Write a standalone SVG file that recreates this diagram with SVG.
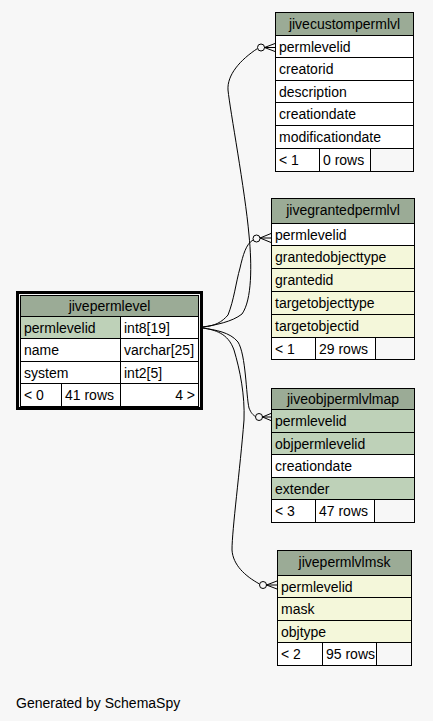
<svg xmlns="http://www.w3.org/2000/svg" width="433" height="721" viewBox="0 0 433 721">
<style>
text{font-family:"Liberation Sans",Arial,sans-serif;font-size:14px;fill:#000}
.c{text-anchor:middle}
.e{text-anchor:end}
rect{stroke:#000;stroke-width:1}
rect.thick{fill:none;stroke-width:3}
.h{fill:#9bab96}
.w{fill:#ffffff}
.k{fill:#bed1b8}
.i{fill:#f4f7da}
.b{fill:#f7f7f7}
.edge{fill:none;stroke:#000;stroke-width:1}
.dot{fill:#f7f7f7;stroke:#000;stroke-width:1}
</style>
<rect x="0" y="0" width="433" height="721" fill="#f7f7f7" style="stroke:none"/>

<g id="connectors">
<path class="edge" d="M203,327 C215,325 232,322 242,314 C252,300 252,265 249,235 C245,190 230,110 228,90 C227,75 240,60 257.5,48.5"/>
<circle class="dot" cx="261" cy="47.5" r="3.5"/>
<path class="edge" d="M264.5,47.5 L275,43.5 M264.5,47.5 L275,47.5 M264.5,47.5 L275,51.5"/>

<path class="edge" d="M203,327 C215,326 222,322 228,315 C234,300 236,282 240,268 C243,255 246,244 253,240"/>
<circle class="dot" cx="256.5" cy="238.5" r="3.5"/>
<path class="edge" d="M260,238 L271,233.5 M260,238 L271,238 M260,238 L271,242.5"/>

<path class="edge" d="M203,328 C215,330 230,332 238,342 C246,355 246,395 249,408 C251,413 253,415 255.5,416.5"/>
<circle class="dot" cx="259" cy="417" r="3.5"/>
<path class="edge" d="M262.5,417 L272,413 M262.5,417 L272,417 M262.5,417 L272,421"/>

<path class="edge" d="M203,328 C215,330 228,333 234,350 C240,370 245,395 244,420 C240,470 232,530 232,550 C233,565 245,576 259.5,584"/>
<circle class="dot" cx="263" cy="585" r="3.5"/>
<path class="edge" d="M266.5,585 L277,581 M266.5,585 L277,585 M266.5,585 L277,589"/>
</g>

<g id="jivecustompermlvl">
<rect class="h" x="275.5" y="12.5" width="138" height="23"/>
<text class="c" x="344.5" y="28.5">jivecustompermlvl</text>
<rect class="w" x="275.5" y="35.5" width="138" height="22"/>
<text x="279" y="51.5">permlevelid</text>
<rect class="w" x="275.5" y="57.5" width="138" height="23"/>
<text x="279" y="74">creatorid</text>
<rect class="w" x="275.5" y="80.5" width="138" height="22"/>
<text x="279" y="96.5">description</text>
<rect class="w" x="275.5" y="102.5" width="138" height="23"/>
<text x="279" y="119">creationdate</text>
<rect class="w" x="275.5" y="125.5" width="138" height="23"/>
<text x="279" y="142">modificationdate</text>
<rect class="w" x="275.5" y="148.5" width="44" height="23"/>
<rect class="w" x="319.5" y="148.5" width="51" height="23"/>
<rect class="b" x="370.5" y="148.5" width="43" height="23"/>
<text x="279" y="165">&lt; 1</text>
<text x="323" y="165">0 rows</text>
</g>

<g id="jivegrantedpermlvl">
<rect class="h" x="271.5" y="198.5" width="143" height="25"/>
<text class="c" x="343" y="215">jivegrantedpermlvl</text>
<rect class="w" x="271.5" y="223.5" width="143" height="22"/>
<text x="275" y="239.5">permlevelid</text>
<rect class="i" x="271.5" y="245.5" width="143" height="23"/>
<text x="275" y="262">grantedobjecttype</text>
<rect class="i" x="271.5" y="268.5" width="143" height="23"/>
<text x="275" y="285">grantedid</text>
<rect class="i" x="271.5" y="291.5" width="143" height="23"/>
<text x="275" y="308">targetobjecttype</text>
<rect class="i" x="271.5" y="314.5" width="143" height="23"/>
<text x="275" y="331">targetobjectid</text>
<rect class="w" x="271.5" y="337.5" width="44" height="22"/>
<rect class="w" x="315.5" y="337.5" width="60" height="22"/>
<rect class="b" x="375.5" y="337.5" width="39" height="22"/>
<text x="275" y="353.5">&lt; 1</text>
<text x="319" y="353.5">29 rows</text>
</g>

<g id="jivepermlevel">
<rect class="thick" x="17.5" y="292.5" width="184" height="116"/>
<rect class="h" x="20.5" y="295.5" width="178" height="21"/>
<text class="c" x="109.5" y="311">jivepermlevel</text>
<rect class="k" x="20.5" y="316.5" width="100" height="22"/>
<rect class="w" x="120.5" y="316.5" width="78" height="22"/>
<text x="24" y="332.5">permlevelid</text>
<text x="124" y="332.5">int8[19]</text>
<rect class="w" x="20.5" y="338.5" width="100" height="23"/>
<rect class="w" x="120.5" y="338.5" width="78" height="23"/>
<text x="24" y="355">name</text>
<text x="124" y="355">varchar[25]</text>
<rect class="w" x="20.5" y="361.5" width="100" height="22"/>
<rect class="w" x="120.5" y="361.5" width="78" height="22"/>
<text x="24" y="377.5">system</text>
<text x="124" y="377.5">int2[5]</text>
<rect class="w" x="20.5" y="383.5" width="41" height="23"/>
<rect class="w" x="61.5" y="383.5" width="59" height="23"/>
<rect class="w" x="120.5" y="383.5" width="78" height="23"/>
<text x="24" y="400">&lt; 0</text>
<text x="65" y="400">41 rows</text>
<text class="e" x="195" y="400">4 &gt;</text>
</g>

<g id="jiveobjpermlvlmap">
<rect class="h" x="271.5" y="388.5" width="143" height="21"/>
<text class="c" x="343" y="404">jiveobjpermlvlmap</text>
<rect class="k" x="271.5" y="409.5" width="143" height="23"/>
<text x="275" y="426">permlevelid</text>
<rect class="k" x="271.5" y="432.5" width="143" height="22"/>
<text x="275" y="448.5">objpermlevelid</text>
<rect class="w" x="271.5" y="454.5" width="143" height="23"/>
<text x="275" y="471">creationdate</text>
<rect class="k" x="271.5" y="477.5" width="143" height="22"/>
<text x="275" y="493.5">extender</text>
<rect class="w" x="271.5" y="499.5" width="44" height="23"/>
<rect class="w" x="315.5" y="499.5" width="59" height="23"/>
<rect class="b" x="374.5" y="499.5" width="40" height="23"/>
<text x="275" y="516">&lt; 3</text>
<text x="319" y="516">47 rows</text>
</g>

<g id="jivepermlvlmsk">
<rect class="h" x="277.5" y="550.5" width="134" height="25"/>
<text class="c" x="344.5" y="567">jivepermlvlmsk</text>
<rect class="i" x="277.5" y="575.5" width="134" height="22"/>
<text x="281" y="591.5">permlevelid</text>
<rect class="i" x="277.5" y="597.5" width="134" height="23"/>
<text x="281" y="614">mask</text>
<rect class="i" x="277.5" y="620.5" width="134" height="22"/>
<text x="281" y="636.5">objtype</text>
<rect class="w" x="277.5" y="642.5" width="45" height="23"/>
<rect class="w" x="322.5" y="642.5" width="54" height="23"/>
<rect class="b" x="376.5" y="642.5" width="35" height="23"/>
<text x="281" y="659">&lt; 2</text>
<text x="326" y="659">95 rows</text>
</g>

<text x="16" y="708">Generated by SchemaSpy</text>
</svg>
